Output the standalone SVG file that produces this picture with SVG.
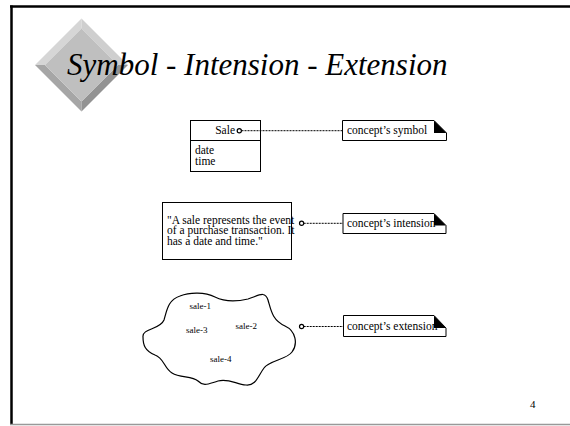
<svg xmlns="http://www.w3.org/2000/svg" width="570" height="426" viewBox="0 0 570 426">
<style>
  .t { font-family: "Liberation Serif", "Times New Roman", serif; fill: #000; }
  .s11 { font-size: 11.5px; }
  .s9 { font-size: 9px; }
  .box { fill: #fff; stroke: #000; stroke-width: 1; }
  .dash { stroke: #000; stroke-width: 1; stroke-dasharray: 2 1; fill: none; }
  .dot { fill: #fff; stroke: #000; stroke-width: 1.2; }
  .fold { fill: #000; }
</style>
<rect x="0" y="0" width="570" height="426" fill="#fff"/>
<!-- slide frame -->
<g id="frame">
  <line x1="10" y1="6.5" x2="570" y2="6.5" stroke="#000" stroke-width="2.5"/>
  <line x1="11.5" y1="5.5" x2="11.5" y2="425" stroke="#000" stroke-width="2.5"/>
  <line x1="10" y1="424.5" x2="570" y2="424.5" stroke="#999" stroke-width="1.5"/>
</g>
<!-- bevelled diamond -->
<g id="diamond">
  <polygon points="81.5,18.5 35,65 45,65 81.5,28.5" fill="#d6d6d6"/>
  <polygon points="81.5,18.5 128,65 118,65 81.5,28.5" fill="#cfcfcf"/>
  <polygon points="35,65 81.5,111.5 81.5,101.5 45,65" fill="#a6a6a6"/>
  <polygon points="128,65 81.5,111.5 81.5,101.5 118,65" fill="#939393"/>
  <polygon points="81.5,28.5 118,65 81.5,101.5 45,65" fill="#bfbfbf"/>
</g>
<text id="title" class="t" x="67" y="75" font-size="31" font-style="italic">Symbol - Intension - Extension</text>

<g id="sale-class">
  <rect class="box" x="190.5" y="120.5" width="70" height="51"/>
  <line x1="190.5" y1="140.5" x2="260.5" y2="140.5" stroke="#000"/>
  <text class="t s11" x="235" y="133.5" text-anchor="end">Sale</text>
  <text class="t s11" x="195" y="154">date</text>
  <text class="t s11" x="195" y="164.5">time</text>
</g>

<g id="note-symbol">
  <polygon class="box" points="342.5,120.5 434,120.5 446.5,133 446.5,140.5 342.5,140.5"/>
  <text class="t s11" x="347" y="133.5">concept’s symbol</text>
  <polygon class="fold" points="434,120.5 434,133 446.5,133"/>
</g>

<g id="intension-box">
  <rect class="box" x="162.5" y="202.5" width="129" height="57"/>
  <text class="t s11" x="167" y="223.5">"A sale represents the event</text>
  <text class="t s11" x="167" y="234.3">of a purchase transaction. It</text>
  <text class="t s11" x="167" y="244.8">has a date and time."</text>
</g>

<g id="note-intension">
  <polygon class="box" points="343,213.5 434,213.5 446,225.5 446,233.5 343,233.5"/>
  <text class="t s11" x="347" y="226.5">concept’s intension</text>
  <polygon class="fold" points="434,213.5 434,225.5 446,225.5"/>
</g>

<g id="extension-cloud">
  <path fill="#fff" stroke="#000" stroke-width="1.2" d="M 143,337 C 142,328 160,330 164,320 C 167,310 168,300 180,296 C 190,292 205,292 215,297 C 225,302 235,302 248,299 C 258,296 265,290 268,300 C 271,310 272,320 285,326 C 296,331 298,344 292,352 C 286,360 270,360 264,368 C 258,376 256,386 246,385 C 236,384 228,378 218,381 C 208,384 204,387 198,381 C 192,376 180,378 172,373 C 164,368 164,358 155,355 C 145,351 143,345 143,337 Z"/>
  <text class="t s9" x="189.5" y="308.5">sale-1</text>
  <text class="t s9" x="235.5" y="328.5">sale-2</text>
  <text class="t s9" x="186" y="332.5">sale-3</text>
  <text class="t s9" x="210" y="361.5">sale-4</text>
</g>

<g id="note-extension">
  <polygon class="box" points="343.5,315.5 434,315.5 446,328 446,336.5 343.5,336.5"/>
  <text class="t s11" x="347" y="329.5">concept’s extension</text>
  <polygon class="fold" points="434,315.5 434,328 446,328"/>
</g>

<g id="connectors">
  <line class="dash" x1="241.5" y1="130.7" x2="342" y2="130.7"/>
  <line class="dash" x1="303.7" y1="223.3" x2="343" y2="223.3"/>
  <line class="dash" x1="303.7" y1="326.5" x2="343" y2="326.5"/>
  <circle class="dot" cx="239.3" cy="130.7" r="2.1"/>
  <circle class="dot" cx="301.6" cy="223.3" r="2.1"/>
  <circle class="dot" cx="301.6" cy="326.5" r="2.1"/>
</g>

<text id="page-number" class="t" x="530" y="408" font-size="11">4</text>
</svg>
